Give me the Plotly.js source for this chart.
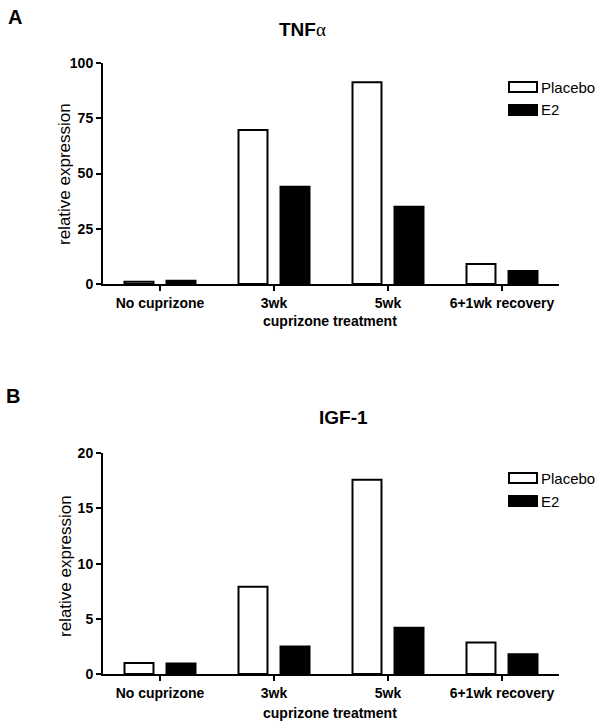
<!DOCTYPE html>
<html>
<head>
<meta charset="utf-8">
<script src="https://cdn.plot.ly/plotly-3.0.1.min.js"></script>
<style>html,body{margin:0;padding:0;background:#fff;}#chart{width:602px;height:726px;}</style>
</head>
<body>
<div id="chart"></div>
<script>
const categories = ["No cuprizone", "3wk", "5wk", "6+1wk recovery"];
const seriesNames = ["Placebo", "E2"];
const tnfPlacebo = [1.0, 69.7, 91.3, 9.0];
const tnfE2 = [1.5, 44.0, 35.0, 5.9];
const igfPlacebo = [1.0, 7.9, 17.6, 2.85];
const igfE2 = [0.95, 2.5, 4.2, 1.8];
const tnfTicks = [0, 25, 50, 75, 100];
const igfTicks = [0, 5, 10, 15, 20];

const W = 602, H = 726;
const px = x => x / W;
const py = y => 1 - y / H;
const FONT = "Arial, 'Liberation Sans', sans-serif";

function bar(name, y, fill, xa, ya) {
  return {
    type: 'bar', name: name, x: categories, y: y, xaxis: xa, yaxis: ya,
    marker: {color: fill, line: {color: '#000', width: 2}},
    showlegend: false, hoverinfo: 'none'
  };
}
const data = [
  bar(seriesNames[0], tnfPlacebo, '#ffffff', 'x', 'y'),
  bar(seriesNames[1], tnfE2, '#000000', 'x', 'y'),
  bar(seriesNames[0], igfPlacebo, '#ffffff', 'x2', 'y2'),
  bar(seriesNames[1], igfE2, '#000000', 'x2', 'y2')
];

function xaxis(anchor) {
  return {
    domain: [px(103), px(559)], anchor: anchor, range: [-0.5, 3.5],
    showline: true, linecolor: '#000', linewidth: 2, mirror: false,
    ticks: 'outside', ticklen: 5, tickwidth: 2, tickcolor: '#000',
    showgrid: false, zeroline: false, fixedrange: true,
    tickfont: {family: FONT, size: 14, color: '#000', weight: 'bold'}
  };
}
function yaxis(anchor, dom, range, ticks) {
  return {
    domain: dom, anchor: anchor, range: range, tickvals: ticks,
    showline: true, linecolor: '#000', linewidth: 2,
    ticks: 'outside', ticklen: 5, tickwidth: 2, tickcolor: '#000',
    showgrid: false, zeroline: false, fixedrange: true,
    tickfont: {family: FONT, size: 14, color: '#000', weight: 'bold'}
  };
}

function txt(text, x, y, size, bold, opts) {
  return Object.assign({
    text: text, xref: 'paper', yref: 'paper', x: px(x), y: py(y),
    showarrow: false, xanchor: 'center', yanchor: 'middle',
    font: {family: FONT, size: size, color: '#000', weight: bold ? 'bold' : 'normal'}
  }, opts || {});
}

const alpha = '<span style="font-family:\'Liberation Serif\',serif;font-weight:normal">α</span>';
const annotations = [
  txt('A', 15, 17, 20, true),
  txt('B', 13, 396, 20, true),
  txt('TNF' + alpha, 302, 30, 19, true),
  txt('IGF-1', 343, 417, 19, true),
  txt('relative expression', 65, 174, 17, false, {textangle: -90}),
  txt('relative expression', 65, 566, 17, false, {textangle: -90}),
  txt('cuprizone treatment', 330, 321, 14, true),
  txt('cuprizone treatment', 330, 713, 14, true),
  txt(seriesNames[0], 539, 87, 15, false, {xanchor: 'left'}),
  txt(seriesNames[1], 539, 110, 15, false, {xanchor: 'left'}),
  txt(seriesNames[0], 539, 478, 15, false, {xanchor: 'left'}),
  txt(seriesNames[1], 539, 501, 15, false, {xanchor: 'left'})
];

function box(x0, y0, x1, y1, fill) {
  return {type: 'rect', xref: 'paper', yref: 'paper', x0: px(x0), x1: px(x1), y0: py(y1), y1: py(y0),
    fillcolor: fill, line: {color: '#000', width: 2}};
}
const shapes = [
  box(509, 82, 537, 92, '#fff'),
  box(509, 105, 537, 115, '#000'),
  box(509, 473, 537, 483, '#fff'),
  box(509, 496, 537, 506, '#000')
];

const layout = {
  width: W, height: H, margin: {l: 0, r: 0, t: 0, b: 0},
  paper_bgcolor: '#fff', plot_bgcolor: 'rgba(0,0,0,0)',
  barmode: 'group', bargap: 0.263, bargroupgap: 0.31,
  showlegend: false,
  xaxis: xaxis('y'),
  yaxis: yaxis('x', [py(284), py(63)], [0, 100], tnfTicks),
  xaxis2: xaxis('y2'),
  yaxis2: yaxis('x2', [py(674), py(453.3)], [0, 20], igfTicks),
  annotations: annotations, shapes: shapes,
  font: {family: FONT, color: '#000'}
};

Plotly.newPlot('chart', data, layout, {displayModeBar: false, staticPlot: true});
</script>
</body>
</html>
